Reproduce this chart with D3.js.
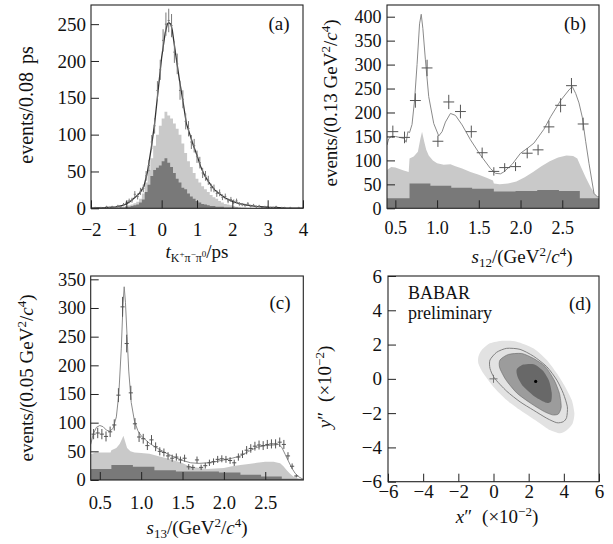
<!DOCTYPE html>
<html lang="en">
<head>
<meta charset="UTF-8">
<title>D0 to K+ pi- pi0 time-dependent Dalitz fit</title>
<script src="https://d3js.org/d3.v7.min.js"></script>
<style>
  body { margin: 0; background: #fff; }
  svg text { font-family: "Liberation Serif", "Times New Roman", Times, serif; fill: #111; }
</style>
</head>
<body>
<div id="chart"></div>
<script>
// ---- panel (a): decay time, 0.08 ps bins ----
const aBinStart = -2, aBinWidth = 0.08;
const aData = [0,1,0,1,0,2,1,2,1,3, 2,5,7,10,11,19,16,23,27,44,
               58,90,112,160,188,228,250,255,248,212, 196,160,148,118,108,90,85,70,62,48,
               44,38,28,27,20,21,15,16,10,12, 9,10,6,5,4,6,3,4,2,3,
               1,2,2,1,1,2,0,1,1,0, 1,0,0,1,0];
const aFillStart = -1.52;
const aLight = [0,1,1,1,2,2,3,4,5,7, 9,13,20,35,52,68,85,100,112,122,
                131,126,122,115,108,100,88,75,64,56, 48,40,35,30,26,22,18,15,13,10,
                8,6,5,4,3,2,2,1,1,0];
const aDark = [0,0,0,1,1,1,2,2,3,4, 5,8,12,22,32,44,52,55,58,64,
               68,62,56,48,40,35,28,26,20,16, 13,10,8,6,5,4,3,3,2,2,
               2,1,1,1,1,1,0,0,0,0];
const aFit = [[-2,0.3],[-1.6,1],[-1.3,2],[-1.1,4],[-1.0,6],[-0.9,9],[-0.8,13],[-0.7,17],[-0.6,22],
              [-0.5,30],[-0.4,50],[-0.3,80],[-0.2,115],[-0.1,160],[0,205],[0.1,238],[0.16,250],
              [0.2,252],[0.26,250],[0.3,242],[0.4,208],[0.5,175],[0.6,146],[0.7,115],[0.8,100],
              [0.9,85],[1.0,72],[1.1,57],[1.2,46],[1.3,38],[1.4,31],[1.5,25],[1.6,21],[1.8,14],
              [2.0,9.5],[2.2,6.5],[2.4,4.5],[2.7,2.5],[3.0,1.4],[3.5,0.5],[4,0.2]];
const aXTicks = [-2,-1,0,1,2,3,4];
const aYTicks = [0,50,100,150,200,250];

// ---- panel (b): s12 ----
const bDataX = [0.47,0.61,0.74,0.88,1.01,1.14,1.28,1.41,1.54,1.68,1.81,1.94,2.08,2.21,2.34,2.48,2.61,2.75];
const bDataY = [160,148,225,293,140,222,202,160,116,77,85,87,115,122,170,215,256,176];
const bDarkEdges = [0.40,0.67,0.92,1.17,1.42,1.68,1.94,2.2,2.46,2.71,2.94];
const bDark = [21,52,47,43,41,35,36,38,36,21];
const bLight = [[0.40,80],[0.45,86],[0.5,85],[0.55,82],[0.6,79],[0.66,76],[0.67,104],[0.72,108],
                [0.77,118],[0.8,145],[0.82,160],[0.845,140],[0.87,122],[0.9,110],[0.95,100],[1.0,94],
                [1.08,91],[1.16,92],[1.22,88],[1.3,83],[1.4,76],[1.5,70],[1.6,63],[1.67,58],[1.68,52],
                [1.75,50],[1.85,52],[1.95,56],[2.05,65],[2.15,76],[2.25,88],[2.35,98],[2.45,106],
                [2.55,110],[2.63,109],[2.68,104],[2.72,88],[2.78,65],[2.84,44],[2.9,28],[2.94,22]];
const bFit = [[0.40,132],[0.42,145],[0.45,150],[0.5,150],[0.55,148],[0.6,146],[0.63,138],[0.65,160],
              [0.67,158],[0.7,175],[0.73,225],[0.76,300],[0.79,385],[0.81,405],[0.83,375],[0.86,310],
              [0.9,233],[0.96,177],[1.02,151],[1.06,160],[1.1,180],[1.16,198],[1.22,194],[1.3,174],
              [1.4,143],[1.52,111],[1.64,83],[1.7,73],[1.76,72],[1.8,76],[1.9,92],[2.0,115],[2.08,125],
              [2.16,136],[2.28,165],[2.36,191],[2.48,225],[2.58,247],[2.62,254],[2.66,240],[2.7,220],
              [2.74,190],[2.78,140],[2.82,94],[2.88,31],[2.92,24],[2.94,24]];
const bXTicks = [0.5,1.0,1.5,2.0,2.5];
const bYTicks = [0,50,100,150,200,250,300,350,400];

// ---- panel (c): s13, 0.05 bins ----
const cBinStart = 0.40, cBinWidth = 0.05;
const cData = [80,82,80,76,84,96,148,302,238,152, 98,75,72,60,70,58,50,48,42,38,
               40,35,38,23,22,35,22,25,30,32, 36,37,36,34,30,40,45,52,55,59,
               61,60,62,63,63,66,62,42,24,7];
const cDarkEdges = [0.39,0.64,0.9,1.16,1.42,1.68,1.94,2.2,2.45,2.7,2.96];
const cDark = [19,26,23,17,15,15,13,9,6,2];
const cLight = [[0.39,45],[0.45,48],[0.55,48],[0.63,48],[0.64,52],[0.7,56],[0.74,63],[0.77,72],
                [0.785,77],[0.8,70],[0.83,56],[0.87,50],[0.92,48],[1.0,47],[1.1,46],[1.2,42],
                [1.31,38],[1.4,34],[1.49,30],[1.58,24],[1.67,22],[1.79,19],[1.9,20],[2.0,21],
                [2.1,24],[2.2,26],[2.3,28],[2.4,30],[2.5,32],[2.6,32],[2.68,29],[2.72,24],
                [2.76,17],[2.8,11],[2.84,6],[2.9,2],[2.96,0]];
const cFit = [[0.39,62],[0.42,80],[0.46,92],[0.5,95],[0.54,93],[0.58,87],[0.62,85],[0.66,90],
              [0.7,110],[0.73,150],[0.76,230],[0.78,305],[0.795,337],[0.81,310],[0.83,250],
              [0.85,190],[0.88,135],[0.92,102],[0.96,86],[1.0,77],[1.1,64],[1.2,55],[1.3,47],
              [1.4,40],[1.5,34],[1.6,30],[1.7,29],[1.8,30],[1.9,32],[2.0,35],[2.1,38],[2.2,42],
              [2.3,50],[2.4,57],[2.5,60],[2.6,61],[2.66,62],[2.7,57],[2.74,45],[2.78,33],
              [2.82,21],[2.86,12],[2.9,6],[2.96,1]];
const cXTicks = [0.5,1.0,1.5,2.0,2.5];
const cYTicks = [0,50,100,150,200,250,300,350];

// ---- panel (d): x'' y'' confidence contours (units of 1e-2) ----
const dOuter = [[-0.86,1.29],[-0.67,1.68],[-0.2,2.07],[0.56,2.22],[1.32,2.17],[2.26,1.78],[3.03,1.1],
                [3.6,0.32],[4.07,-0.46],[4.45,-1.24],[4.6,-2.01],[4.5,-2.6],[4.16,-3.0],[3.78,-3.18],
                [3.21,-2.99],[2.65,-2.6],[2.08,-2.21],[1.51,-1.82],[0.75,-1.24],[-0.01,-0.46],
                [-0.58,0.32],[-0.86,0.9]];
const dLine = [[-0.2,1.1],[0.18,1.55],[0.75,1.78],[1.51,1.72],[2.26,1.33],[3.03,0.71],[3.6,-0.07],
               [3.97,-0.85],[4.2,-1.63],[4.16,-2.25],[3.97,-2.5],[3.6,-2.56],[3.03,-2.3],[2.26,-1.82],
               [1.51,-1.34],[0.75,-0.72],[0.05,0.05],[-0.2,0.61]];
const dMid = [[0.37,1.1],[0.84,1.42],[1.6,1.48],[2.26,1.2],[2.95,0.71],[3.45,-0.07],[3.75,-0.85],
              [3.85,-1.63],[3.69,-2.05],[3.35,-2.1],[2.83,-1.88],[2.08,-1.4],[1.32,-0.82],
              [0.7,-0.05],[0.35,0.65]];
const dInner = [[1.32,0.55],[1.7,0.83],[2.3,0.85],[2.8,0.48],[3.15,-0.1],[3.31,-0.8],[3.28,-1.3],
                [3.0,-1.4],[2.36,-1.05],[1.7,-0.45],[1.38,0.1]];
const dBest = [2.4, -0.15];
const dNoMix = [0, 0];
const dTicks = [-6,-4,-2,0,2,4,6];

const LIGHT = "#c9c9c9", DARK = "#797979";

const svg = d3.select("#chart").append("svg").attr("width", 613).attr("height", 544);
svg.append("rect").attr("width", 613).attr("height", 544).attr("fill", "#fff");

function makePanel(o) {
  const x = d3.scaleLinear().domain(o.xd).range([o.l, o.r]);
  const y = d3.scaleLinear().domain(o.yd).range([o.b, o.t]);
  const g = svg.append("g");
  const id = "clip" + o.name;
  g.append("clipPath").attr("id", id).append("rect")
    .attr("x", o.l).attr("y", o.t).attr("width", o.r - o.l).attr("height", o.b - o.t);
  const body = g.append("g").attr("clip-path", `url(#${id})`);
  return { x, y, g, body, o };
}

function finishPanel(p, xt, yt, xfmt, yfmt) {
  const o = p.o;
  p.g.append("rect").attr("x", o.l).attr("y", o.t).attr("width", o.r - o.l).attr("height", o.b - o.t)
    .attr("fill", "none").attr("stroke", "#222").attr("stroke-width", 1.1);

  const gx = p.g.append("g").attr("transform", `translate(0,${o.b})`)
    .call(d3.axisBottom(p.x).tickValues(xt).tickSizeInner(-8).tickSizeOuter(0).tickFormat(xfmt));
  gx.select(".domain").remove();
  gx.attr("font-family", null).attr("font-size", o.fs).attr("color", "#222");
  gx.selectAll("text").attr("y", o.xlab).attr("dy", null);

  const gy = p.g.append("g").attr("transform", `translate(${o.l},0)`)
    .call(d3.axisLeft(p.y).tickValues(yt).tickSizeInner(-8).tickSizeOuter(0).tickFormat(yfmt));
  gy.select(".domain").remove();
  gy.attr("font-family", null).attr("font-size", o.fs).attr("color", "#222");
  gy.selectAll("text").attr("x", -o.ypad);
}

function stepArea(p, edges, vals, color) {
  const pts = [];
  vals.forEach((v, i) => { pts.push([edges[i], v]); pts.push([edges[i + 1], v]); });
  p.body.append("path").datum(pts).attr("fill", color)
    .attr("d", d3.area().x(d => p.x(d[0])).y0(p.y(0)).y1(d => p.y(d[1])));
}

function smoothArea(p, pts, color) {
  p.body.append("path").datum(pts).attr("fill", color)
    .attr("d", d3.area().x(d => p.x(d[0])).y0(p.y(0)).y1(d => p.y(d[1])));
}

function fitLine(p, pts, color, w) {
  p.body.append("path").datum(pts).attr("fill", "none").attr("stroke", color).attr("stroke-width", w)
    .attr("d", d3.line().x(d => p.x(d[0])).y(d => p.y(d[1])));
}

function crosses(p, xs, ys, halfW, color) {
  const g = p.body.append("g").attr("stroke", color).attr("stroke-width", 1);
  xs.forEach((xv, i) => {
    const v = ys[i];
    if (v <= 0) return;
    const e = Math.sqrt(v);
    g.append("line").attr("x1", p.x(xv - halfW)).attr("x2", p.x(xv + halfW))
      .attr("y1", p.y(v)).attr("y2", p.y(v));
    g.append("line").attr("x1", p.x(xv)).attr("x2", p.x(xv))
      .attr("y1", p.y(v - e)).attr("y2", p.y(v + e));
  });
}

// rich text: parts = {s, o (vertical offset, negative = up), f (size), i (italic), dx}
function rich(t, parts) {
  let cur = 0;
  parts.forEach(p => {
    const off = p.o || 0;
    const s = t.append("tspan").attr("dy", off - cur).text(p.s);
    cur = off;
    if (p.f) s.attr("font-size", p.f);
    if (p.i) s.attr("font-style", "italic");
    if (p.dx) s.attr("dx", p.dx);
  });
}
function rotLabel(x, y, size, parts) {
  const t = svg.append("text").attr("transform", `translate(${x},${y}) rotate(-90)`)
    .attr("text-anchor", "middle").attr("font-size", size);
  rich(t, parts);
}
function label(x, y, size, parts, anchor) {
  const t = svg.append("text").attr("x", x).attr("y", y).attr("text-anchor", anchor || "middle")
    .attr("font-size", size);
  rich(t, parts);
}

// ===== (a) =====
const pa = makePanel({ name: "a", l: 91, r: 303, t: 5, b: 208.3, xd: [-2, 4], yd: [0, 276],
                       fs: 19, xlab: 28, ypad: 5 });
const aEdges = aLight.map((d, i) => aFillStart + i * aBinWidth).concat([aFillStart + aLight.length * aBinWidth]);
stepArea(pa, aEdges, aLight, LIGHT);
stepArea(pa, aEdges, aDark, DARK);
fitLine(pa, aFit, "#333", 1.3);
crosses(pa, aData.map((d, i) => aBinStart + (i + 0.5) * aBinWidth), aData, 0.03, "#7a7a7a");
finishPanel(pa, aXTicks, aYTicks, d3.format("d"), d3.format("d"));

// ===== (b) =====
const pb = makePanel({ name: "b", l: 387, r: 599, t: 5, b: 208.3, xd: [0.40, 2.94], yd: [0, 424.4],
                       fs: 18, xlab: 26, ypad: 5.5 });
smoothArea(pb, bLight, LIGHT);
stepArea(pb, bDarkEdges, bDark, DARK);
fitLine(pb, bFit, "#8a8a8a", 1);
crosses(pb, bDataX, bDataY, 0.065, "#555");
finishPanel(pb, bXTicks, bYTicks, d3.format(".1f"), d3.format("d"));

// ===== (c) =====
const pc = makePanel({ name: "c", l: 90.7, r: 303.3, t: 276, b: 480, xd: [0.39, 2.96], yd: [0, 355.8],
                       fs: 18.5, xlab: 29, ypad: 5 });
smoothArea(pc, cLight, LIGHT);
stepArea(pc, cDarkEdges, cDark, DARK);
fitLine(pc, cFit, "#8a8a8a", 1);
crosses(pc, cData.map((d, i) => cBinStart + (i + 0.5) * cBinWidth), cData, 0.025, "#555");
finishPanel(pc, cXTicks, cYTicks, d3.format(".1f"), d3.format("d"));

// ===== (d) =====
const pd = makePanel({ name: "d", l: 388, r: 599, t: 276, b: 481.7, xd: [-6, 6], yd: [-6, 6],
                       fs: 19, xlab: 16, ypad: 6 });
const closed = d3.line().x(d => pd.x(d[0])).y(d => pd.y(d[1])).curve(d3.curveCardinalClosed.tension(0.3));
pd.body.append("path").datum(dOuter).attr("fill", "#e2e2e2").attr("d", closed);
pd.body.append("path").datum(dLine).attr("fill", "none").attr("stroke", "#808080").attr("stroke-width", 1).attr("d", closed);
pd.body.append("path").datum(dMid).attr("fill", "#9c9c9c").attr("stroke", "#6a6a6a").attr("stroke-width", 0.6).attr("d", closed);
pd.body.append("path").datum(dInner).attr("fill", "#686868").attr("d", closed);
pd.body.append("circle").attr("cx", pd.x(dBest[0])).attr("cy", pd.y(dBest[1])).attr("r", 1.6).attr("fill", "#000");
const cx0 = pd.x(dNoMix[0]), cy0 = pd.y(dNoMix[1]);
pd.body.append("path").attr("d", `M${cx0 - 4},${cy0}H${cx0 + 4}M${cx0},${cy0 - 4}V${cy0 + 4}`)
  .attr("stroke", "#777").attr("stroke-width", 1);
finishPanel(pd, dTicks, dTicks, d3.format("d"), d3.format("d"));

// ===== axis titles =====
const massUnit = n => [{ s: `events/(${n} GeV` }, { s: "2", o: -7, f: 13 }, { s: "/" },
                       { s: "c", i: true }, { s: "4", o: -7, f: 13 }, { s: ")" }];
rotLabel(33, 105, 20, [{ s: "events/0.08" }, { s: "ps", dx: 8 }]);
rotLabel(337, 103, 19, massUnit("0.13"));
rotLabel(33, 378, 19, massUnit("0.05"));
rotLabel(331, 387, 19, [{ s: "y", i: true }, { s: "″" }, { s: "(×10", dx: 10 }, { s: "−2", o: -7, f: 13 }, { s: ")" }]);

label(197, 258, 19, [{ s: "t", i: true }, { s: "K", o: 4, f: 12 }, { s: "+", o: -1, f: 9 },
                     { s: "π", o: 4, f: 12 }, { s: "−", o: -1, f: 9 }, { s: "π", o: 4, f: 12 },
                     { s: "0", o: -1, f: 9 }, { s: "/ps" }]);
const sParts = sub => [{ s: "s", i: true }, { s: sub, o: 4, f: 13 }, { s: "/(GeV" }, { s: "2", o: -7, f: 13 },
                       { s: "/" }, { s: "c", i: true }, { s: "4", o: -7, f: 13 }, { s: ")" }];
label(522, 263, 19, sParts("12"));
label(197, 534, 19, sParts("13"));
label(497, 523, 19, [{ s: "x", i: true }, { s: "″" }, { s: "(×10", dx: 10 }, { s: "−2", o: -7, f: 13 }, { s: ")" }]);

// ===== panel tags =====
label(279, 30, 19, [{ s: "(a)" }]);
label(575, 30, 19, [{ s: "(b)" }]);
label(280, 309, 19, [{ s: "(c)" }]);
label(580, 310, 19, [{ s: "(d)" }]);
label(408, 299, 18, [{ s: "BABAR" }], "start");
label(408, 319, 18, [{ s: "preliminary" }], "start");
</script>
</body>
</html>
